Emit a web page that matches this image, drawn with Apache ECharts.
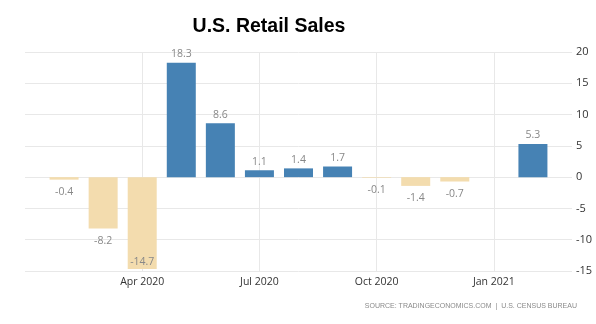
<!DOCTYPE html>
<html>
<head>
<meta charset="utf-8">
<script src="https://cdn.jsdelivr.net/npm/echarts@6/dist/echarts.min.js"></script>
<style>html,body{margin:0;padding:0;background:#fff}#c{width:596px;height:324px}</style>
</head>
<body>
<div id="c"></div>
<script>
const months = ['Jan 2020','Feb 2020','Mar 2020','Apr 2020','May 2020','Jun 2020','Jul 2020','Aug 2020','Sep 2020','Oct 2020','Nov 2020','Dec 2020','Jan 2021','Feb 2021','Mar 2021'];
const values = [null,-0.4,-8.2,-14.7,18.3,8.6,1.1,1.4,1.7,-0.1,-1.4,-0.7,null,5.3,null];
const shownLabels = ['Apr 2020','Jul 2020','Oct 2020','Jan 2021'];
const yTicks = [-15,-10,-5,0,5,10,15,20];
const titleText = 'U.S. Retail Sales';
const sourceText = 'SOURCE: TRADINGECONOMICS.COM  |  U.S. CENSUS BUREAU';

const POS = '#4682b4', NEG = '#f3dcae';
const chart = echarts.init(document.getElementById('c'), null, {renderer:'canvas'});
const dataItems = values.map(v => {
  if (v === null) return null;
  const item = {value: v, itemStyle: {color: v >= 0 ? POS : NEG}};
  if (v < 0) {
    item.label = (v < -12) ? {position: 'insideBottom', distance: 2} : {position: 'bottom', distance: 7};
  }
  return item;
});
const showIdx = i => shownLabels.indexOf(months[i]) >= 0;
chart.setOption({
  animation: false,
  backgroundColor: '#fff',
  grid: {left: 25, right: 24, top: 52, bottom: 53, containLabel: false},
  graphic: [
    {type: 'text', x: 269, y: 27, style: {text: titleText, font: 'bold 19.5px "Liberation Sans", Arial, sans-serif', fill: '#000', textAlign: 'center', textVerticalAlign: 'middle'}},
    {type: 'text', x: 577, y: 306, style: {text: sourceText, font: '7px "Liberation Sans", Arial, sans-serif', fill: '#8a8a8a', textAlign: 'right', textVerticalAlign: 'middle'}}
  ],
  xAxis: {
    type: 'category', data: months, boundaryGap: false,
    axisLine: {show: false}, axisTick: {show: false},
    axisLabel: {interval: (i) => showIdx(i), color: '#333', fontSize: 10.5, fontFamily: '"Open Sans", sans-serif', margin: 6},
    splitLine: {show: true, interval: (i) => showIdx(i), lineStyle: {color: '#e8e8e8', width: 1}}
  },
  yAxis: {
    type: 'value', position: 'right', min: yTicks[0], max: yTicks[yTicks.length-1], interval: 5,
    axisLine: {show: false}, axisTick: {show: false},
    axisLabel: {color: '#333', fontSize: 11, fontFamily: '"Open Sans", sans-serif', margin: 4},
    splitLine: {lineStyle: {color: '#e8e8e8', width: 1}}
  },
  series: [{
    type: 'bar', data: dataItems, barWidth: 29,
    label: {show: true, position: 'top', distance: 3, color: '#888', fontSize: 10.5, fontFamily: '"Open Sans", sans-serif', formatter: p => p.value.toFixed(1)}
  }]
});
</script>
</body>
</html>
